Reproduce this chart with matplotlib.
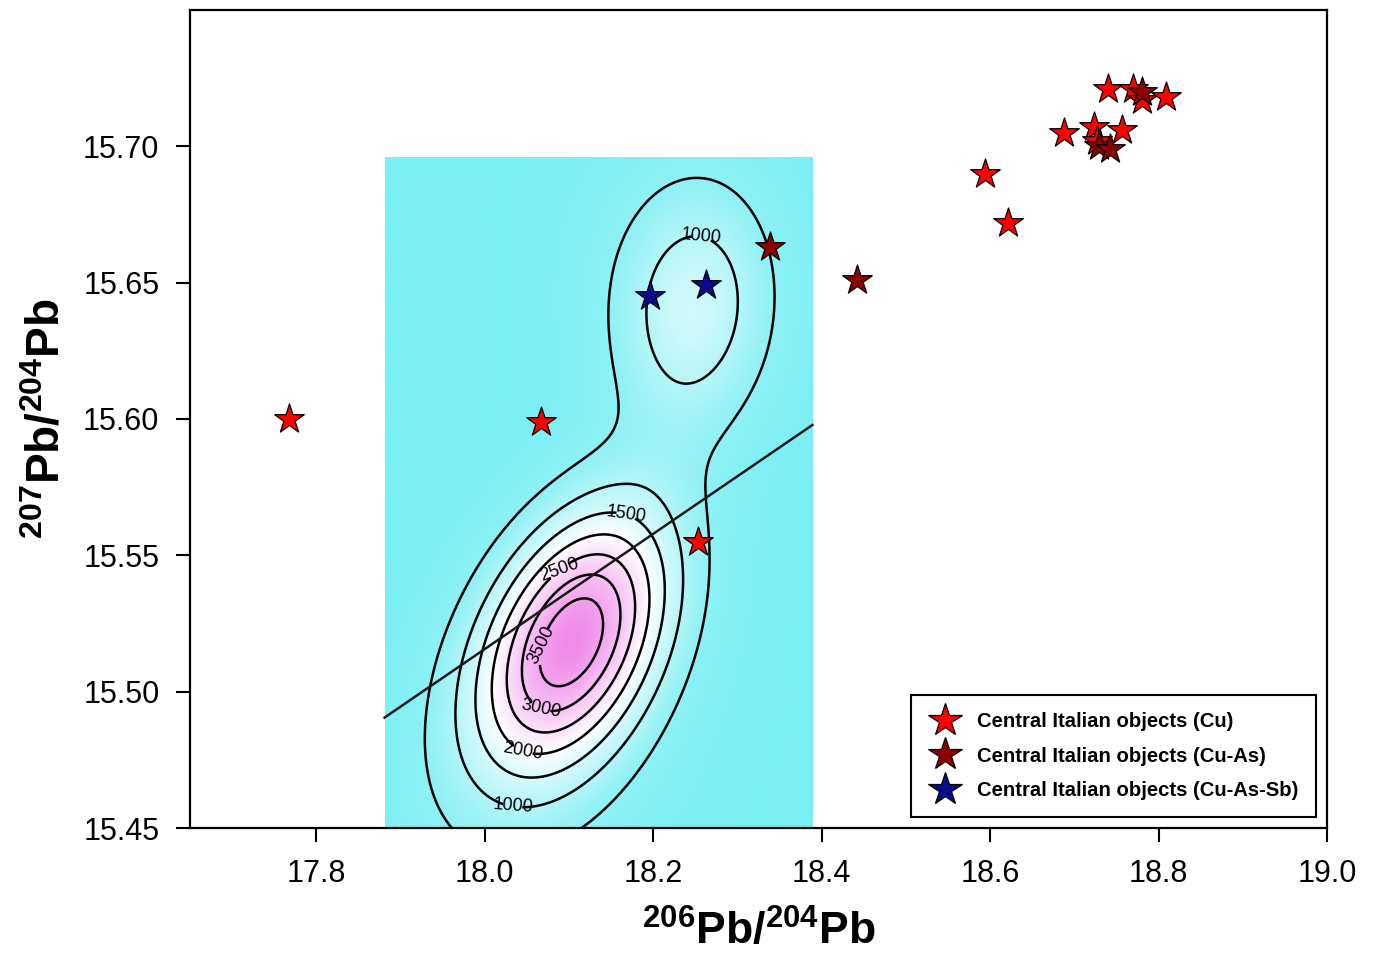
import numpy as np
import matplotlib.pyplot as plt
from matplotlib.colors import LinearSegmentedColormap
from matplotlib.lines import Line2D

plt.rcParams['font.family'] = ['Liberation Sans', 'DejaVu Sans']
plt.rcParams['mathtext.fontset'] = 'custom'
plt.rcParams['mathtext.rm'] = 'Liberation Sans'
plt.rcParams['mathtext.bf'] = 'Liberation Sans:bold'

# star data: 206Pb/204Pb, 207Pb/204Pb
cu_x = [17.767, 18.067, 18.253, 18.594, 18.621, 18.688, 18.723, 18.757, 18.727,
        18.740, 18.770, 18.780, 18.809]
cu_y = [15.600, 15.599, 15.555, 15.690, 15.672, 15.705, 15.707, 15.706, 15.702,
        15.721, 15.721, 15.717, 15.718]
cuas_x = [18.339, 18.442, 18.729, 18.742, 18.780]
cuas_y = [15.663, 15.651, 15.700, 15.699, 15.720]
cuassb_x = [18.196, 18.263]
cuassb_y = [15.645, 15.649]

# density field, gaussian components: amplitude, x0, y0, sx, sy, rho
lobe_amp = [3600, 450, 1150, 220]
lobe_x0 = [18.105, 18.060, 18.248, 18.225]
lobe_y0 = [15.520, 15.480, 15.640, 15.652]
lobe_sx = [0.078, 0.120, 0.066, 0.095]
lobe_sy = [0.033, 0.045, 0.032, 0.040]
lobe_rho = [0.40, 0.30, 0.10, -0.1]

field_xlim = [17.881, 18.389]
field_ylim = [15.449, 15.696]
contour_levels = [500, 1000, 1500, 2000, 2500, 3000, 3500]

# where the contour values are written
label_x = [18.256, 18.167, 18.090, 18.072, 18.066, 18.045, 18.033]
label_y = [15.6575, 15.5623, 15.5418, 15.5154, 15.4916, 15.4762, 15.456]

# straight reference line
line_x = [17.881, 18.389]
line_y = [15.4905, 15.5978]

xticks = [17.8, 18.0, 18.2, 18.4, 18.6, 18.8, 19.0]
yticks = [15.45, 15.50, 15.55, 15.60, 15.65, 15.70]


def density(X, Y):
    Z = np.zeros_like(X)
    for a, x0, y0, sx, sy, r in zip(lobe_amp, lobe_x0, lobe_y0, lobe_sx, lobe_sy, lobe_rho):
        dx = (X - x0) / sx
        dy = (Y - y0) / sy
        q = (dx ** 2 - 2 * r * dx * dy + dy ** 2) / (1 - r ** 2)
        Z += a * np.exp(-0.5 * q)
    return Z


fig = plt.figure(figsize=(13.75, 9.59), dpi=100)
ax = fig.add_axes([0.1382, 0.1366, 0.8269, 0.853])

gx = np.linspace(field_xlim[0], field_xlim[1], 300)
gy = np.linspace(field_ylim[0], field_ylim[1], 300)
X, Y = np.meshgrid(gx, gy)
Z = density(X, Y)

cmap = LinearSegmentedColormap.from_list(
    'cyanpink', [(0.0, '#7aeff4'), (0.12, '#8ef1f5'), (0.5, '#ffffff'), (1.0, '#ef86e9')])
ax.imshow(Z, extent=[field_xlim[0], field_xlim[1], field_ylim[0], field_ylim[1]],
          origin='lower', cmap=cmap, vmin=0, vmax=4000, aspect='auto', zorder=1)
cs = ax.contour(X, Y, Z, levels=contour_levels, colors='black', linewidths=1.8, zorder=2)
ax.clabel(cs, fmt={lv: str(lv) for lv in contour_levels}, fontsize=13,
          inline=True, manual=list(zip(label_x, label_y)))

ax.plot(line_x, line_y, color='#1a1a1a', lw=1.8, zorder=3)

star = dict(marker='*', s=500, edgecolors='black', linewidths=0.9, zorder=4)
ax.scatter(cu_x, cu_y, c='#ff0000', **star)
ax.scatter(cuas_x, cuas_y, c='#8b0000', **star)
ax.scatter(cuassb_x, cuassb_y, c='#0a0a8c', **star)

ax.set_xlim(17.65, 19.0)
ax.set_ylim(15.45, 15.75)
ax.set_xticks(xticks)
ax.set_xticklabels([f'{v:.1f}' for v in xticks])
ax.set_yticks(yticks)
ax.set_yticklabels([f'{v:.2f}' for v in yticks])
ax.tick_params(direction='out', length=10, width=1.5, labelsize=22, pad=12)
for sp in ax.spines.values():
    sp.set_linewidth(1.6)

ax.set_xlabel(r'$\mathbf{^{206}Pb/^{204}Pb}$', fontsize=32, labelpad=15)
ax.set_ylabel(r'$\mathbf{^{207}Pb/^{204}Pb}$', fontsize=33, labelpad=10)

handles = [
    Line2D([], [], ls='none', marker='*', markersize=25, markerfacecolor=c,
           markeredgecolor='black', markeredgewidth=0.9)
    for c in ['#ff0000', '#8b0000', '#0a0a8c']
]
labels = ['Central Italian objects (Cu)', 'Central Italian objects (Cu-As)',
          'Central Italian objects (Cu-As-Sb)']
leg = ax.legend(handles, labels, loc='lower right', bbox_to_anchor=(0.9903, 0.0134),
                borderaxespad=0, prop={'size': 14.6, 'weight': 'bold'}, fancybox=False,
                framealpha=1, edgecolor='black', handletextpad=0.8, labelspacing=0.75,
                borderpad=0.85, handlelength=1.6)
leg.get_frame().set_linewidth(1.5)

fig.savefig('out.png', dpi=100)
